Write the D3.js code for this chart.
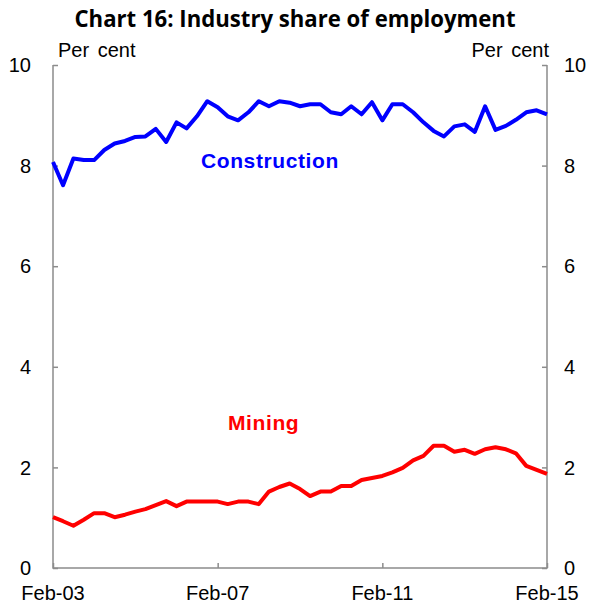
<!DOCTYPE html>
<html>
<head>
<meta charset="utf-8">
<script src="https://cdn.jsdelivr.net/npm/d3@7"></script>
<style>
  html, body { margin: 0; padding: 0; background: #fff; }
  svg { display: block; }
</style>
</head>
<body>
<svg id="chart" width="591" height="608"></svg>
<script>
// Quarterly observations, Feb-03 .. Feb-15
const quarters = [
  '2003-02','2003-05','2003-08','2003-11','2004-02','2004-05','2004-08','2004-11',
  '2005-02','2005-05','2005-08','2005-11','2006-02','2006-05','2006-08','2006-11',
  '2007-02','2007-05','2007-08','2007-11','2008-02','2008-05','2008-08','2008-11',
  '2009-02','2009-05','2009-08','2009-11','2010-02','2010-05','2010-08','2010-11',
  '2011-02','2011-05','2011-08','2011-11','2012-02','2012-05','2012-08','2012-11',
  '2013-02','2013-05','2013-08','2013-11','2014-02','2014-05','2014-08','2014-11',
  '2015-02'
];
const construction = [
  8.07, 7.61, 8.14, 8.11, 8.11, 8.31, 8.44, 8.49, 8.57, 8.58, 8.73, 8.47,
  8.86, 8.74, 8.98, 9.28, 9.16, 8.98, 8.90, 9.06, 9.28, 9.18, 9.28, 9.25,
  9.18, 9.22, 9.22, 9.06, 9.02, 9.18, 9.02, 9.26, 8.90, 9.22, 9.22, 9.06,
  8.86, 8.69, 8.58, 8.78, 8.82, 8.67, 9.18, 8.71, 8.79, 8.91, 9.06, 9.10,
  9.02
];
const mining = [
  1.01, 0.93, 0.84, 0.96, 1.09, 1.09, 1.01, 1.06, 1.12, 1.17, 1.25, 1.33,
  1.23, 1.32, 1.32, 1.32, 1.32, 1.27, 1.32, 1.32, 1.27, 1.52, 1.61, 1.68,
  1.57, 1.43, 1.52, 1.52, 1.63, 1.63, 1.75, 1.79, 1.83, 1.90, 1.99, 2.14,
  2.23, 2.43, 2.43, 2.31, 2.35, 2.27, 2.36, 2.40, 2.36, 2.28, 2.03, 1.95,
  1.87
];
const xTicks = ['2003-02', '2007-02', '2011-02', '2015-02'];
const yTicks = [0, 2, 4, 6, 8, 10];

const svg = d3.select('#chart');
const parse = d3.timeParse('%Y-%m');
const dates = quarters.map(parse);

const L = 53, R = 547, T = 65, B = 568;
const x = d3.scaleTime().domain([dates[0], dates[dates.length - 1]]).range([L, R]);
const y = d3.scaleLinear().domain([0, 10]).range([B, T]);

const axisCol = '#8c8c8c';
const font = 'Liberation Sans, Arial, sans-serif';

// title
svg.append('text').attr('x', 295).attr('y', 27)
  .attr('text-anchor', 'middle').attr('font-family', 'Open Sans, sans-serif')
  .attr('font-weight', 700).attr('font-size', 23)
  .attr('textLength', 441).attr('lengthAdjust', 'spacingAndGlyphs')
  .text('Chart 16: Industry share of employment');

// units
svg.append('text').attr('x', 58).attr('y', 57)
  .attr('font-family', font).attr('font-size', 20).attr('word-spacing', 3)
  .text('Per cent');
svg.append('text').attr('x', 549).attr('y', 57).attr('text-anchor', 'end')
  .attr('font-family', font).attr('font-size', 20).attr('word-spacing', 3)
  .text('Per cent');

// axes
const left = d3.axisRight(y).tickValues(yTicks).tickSize(5).tickFormat('');
const right = d3.axisLeft(y).tickValues(yTicks).tickSize(5).tickFormat('');
const bottom = d3.axisTop(x).tickValues(xTicks.map(parse)).tickSize(5).tickFormat('');

function styleAxis(g) {
  g.select('.domain').remove();
  g.selectAll('.tick line').attr('stroke', axisCol).attr('stroke-width', 1.5);
}
svg.append('g').attr('transform', `translate(${L},0)`).call(left).call(styleAxis);
svg.append('g').attr('transform', `translate(${R},0)`).call(right).call(styleAxis);
svg.append('g').attr('transform', `translate(0,${B})`).call(bottom).call(styleAxis);

// frame lines (left, bottom, right)
svg.append('path')
  .attr('d', `M${L},${T}V${B}H${R}V${T}`)
  .attr('fill', 'none').attr('stroke', axisCol).attr('stroke-width', 1.5);

// y tick labels both sides
yTicks.forEach(v => {
  svg.append('text').attr('x', 31).attr('y', y(v)).attr('dy', '0.36em')
    .attr('text-anchor', 'end').attr('font-family', font).attr('font-size', 20)
    .text(v);
  svg.append('text').attr('x', 564).attr('y', y(v)).attr('dy', '0.36em')
    .attr('font-family', font).attr('font-size', 20)
    .text(v);
});

// x tick labels
const fmt = d3.timeFormat('%b-%y');
xTicks.map(parse).forEach(d => {
  svg.append('text').attr('x', x(d)).attr('y', 600)
    .attr('text-anchor', 'middle').attr('font-family', font).attr('font-size', 20)
    .text(fmt(d));
});

// series
const line = d3.line().x((d, i) => x(dates[i])).y(d => y(d));
svg.append('path').datum(construction).attr('d', line)
  .attr('fill', 'none').attr('stroke', '#0000ff').attr('stroke-width', 4)
  .attr('stroke-linejoin', 'round');
svg.append('path').datum(mining).attr('d', line)
  .attr('fill', 'none').attr('stroke', '#ff0000').attr('stroke-width', 4)
  .attr('stroke-linejoin', 'round');

// series labels
svg.append('text').attr('x', 201).attr('y', 168)
  .attr('font-family', font).attr('font-weight', 700).attr('font-size', 21)
  .attr('letter-spacing', 0.6).attr('fill', '#0000ff').text('Construction');
svg.append('text').attr('x', 228).attr('y', 430)
  .attr('font-family', font).attr('font-weight', 700).attr('font-size', 21)
  .attr('letter-spacing', 0.6).attr('fill', '#ff0000').text('Mining');
</script>
</body>
</html>
